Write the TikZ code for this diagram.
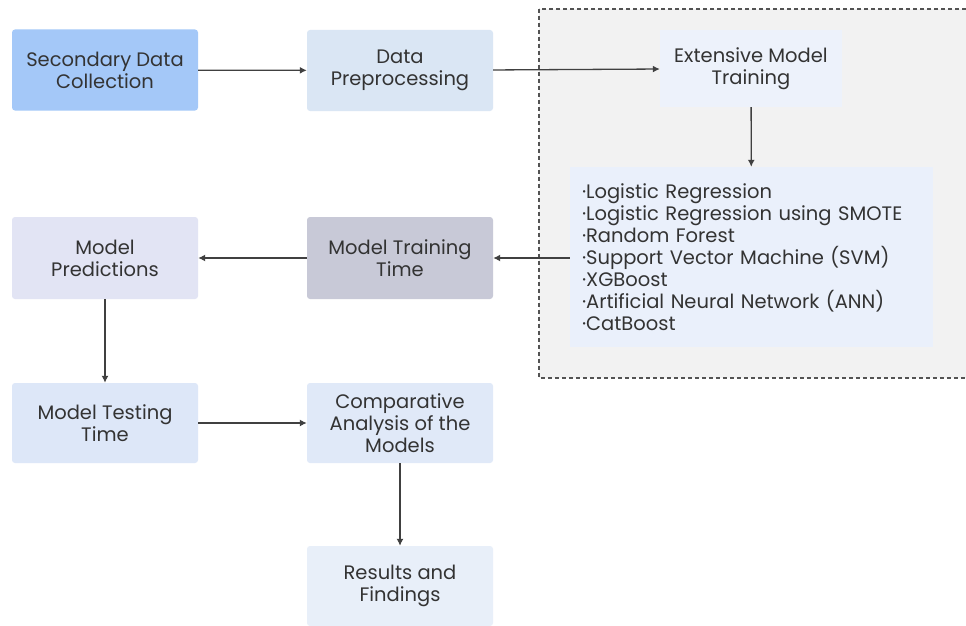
\documentclass[tikz,border=0pt]{standalone}
\usepackage{fontspec}
\setmainfont{Poppins}
\usetikzlibrary{arrows.meta}
\definecolor{txt}{HTML}{333333}
\definecolor{arr}{HTML}{404040}
\definecolor{cSDC}{HTML}{A4C8F8}
\definecolor{cDP}{HTML}{DAE6F4}
\definecolor{cEMT}{HTML}{EDF2FB}
\definecolor{cList}{HTML}{EAF0FB}
\definecolor{cMTT}{HTML}{C8C9D7}
\definecolor{cMP}{HTML}{E2E4F4}
\definecolor{cTest}{HTML}{DDE7F8}
\definecolor{cCA}{HTML}{E0E9F8}
\definecolor{cRF}{HTML}{E8EFF9}
\definecolor{cBg}{HTML}{F2F2F2}
\tikzset{
  box/.style={rounded corners=3pt, minimum width=186pt, minimum height=81pt,
    align=center, text=txt, font=\fontsize{19.5}{22}\selectfont, inner sep=2pt},
  conn/.style={draw=arr, line width=1.3pt, -{Latex[length=7pt,width=7pt]}},
}
\begin{document}
\begin{tikzpicture}[x=1pt,y=-1pt]
\useasboundingbox (0,0) rectangle (966,626);
\fill[white] (0,0) rectangle (966,626);
% dashed group
\draw[fill=cBg, draw=arr!90, line width=1.2pt, dash pattern=on 4pt off 3pt] (539,9) rectangle (975,378);
\node[box, fill=cSDC] (sdc) at (105,70) {Secondary Data\\Collection};
\node[box, fill=cDP] (dp) at (400,70.5) {Data\\Preprocessing};
\node[box, fill=cEMT, minimum width=182pt, minimum height=77pt, rounded corners=0pt] (emt) at (751,68.5) {Extensive Model\\Training};
\node[box, fill=cList, minimum width=363pt, minimum height=180pt, rounded corners=0pt, align=left, text width=339pt, inner xsep=12pt] (list) at (751.5,257)
{·Logistic Regression\\·Logistic Regression using SMOTE\\·Random Forest\\·Support Vector Machine (SVM)\\·XGBoost\\·Artificial Neural Network (ANN)\\·CatBoost};
\node[box, fill=cMTT, minimum height=82pt] (mtt) at (400,258) {Model Training\\Time};
\node[box, fill=cMP, minimum height=82pt] (mp) at (105,258) {Model\\Predictions};
\node[box, fill=cTest, minimum height=80pt] (mtest) at (105,423) {Model Testing\\Time};
\node[box, fill=cCA, minimum height=80pt] (ca) at (400,423) {Comparative\\Analysis of the\\Models};
\node[box, fill=cRF, minimum height=80pt] (rf) at (400,586) {Results and\\Findings};
\draw[conn] (sdc) -- (dp);
\draw[conn] (dp) -- (emt);
\draw[conn] (emt) -- (list);
\draw[conn] (list.west |- mtt.east) -- (mtt.east);
\draw[conn] (mtt) -- (mp);
\draw[conn] (mp) -- (mtest);
\draw[conn] (mtest) -- (ca);
\draw[conn] (ca) -- (rf);
\end{tikzpicture}
\end{document}
